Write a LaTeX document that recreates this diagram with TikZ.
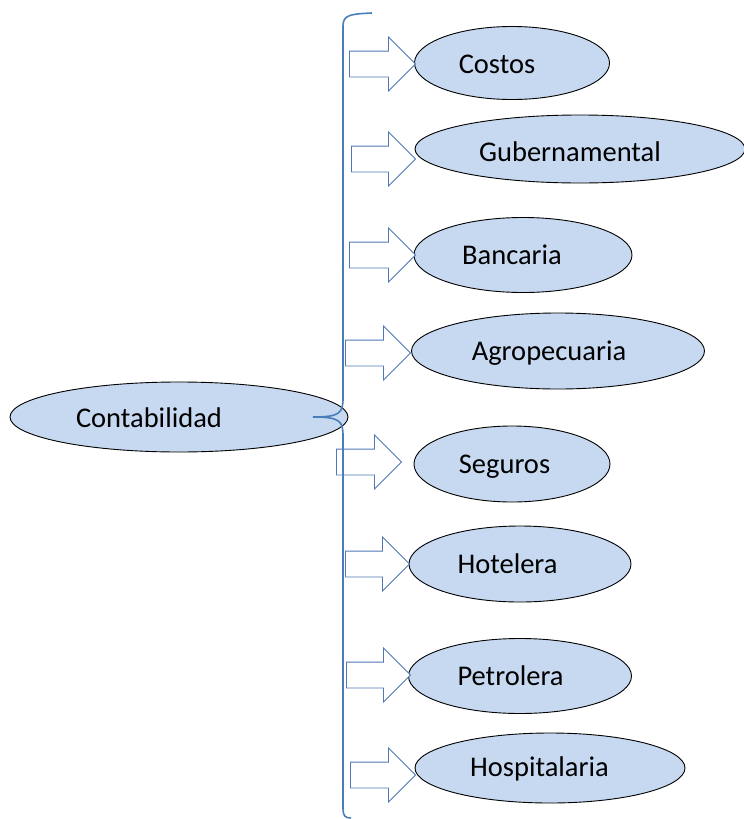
\documentclass[tikz,border=0pt]{standalone}
\usepackage{fontspec}
\setmainfont{Carlito}
\usetikzlibrary{shapes.geometric,shapes.arrows}
\definecolor{ellfill}{RGB}{198,217,240}
\definecolor{arrline}{RGB}{79,120,180}
\definecolor{braceline}{RGB}{74,126,187}
\tikzset{
  oval/.style={ellipse, draw=black, line width=0.9pt, fill=ellfill, inner sep=0pt},
  lbl/.style={anchor=base, inner sep=0pt, font=\fontsize{28.5}{34}\selectfont},
  blockarrow/.style={single arrow, draw=arrline, fill=white, line width=0.9pt,
     single arrow head extend=14pt, single arrow tip angle=90,
     inner xsep=0pt, inner ysep=12.5pt, text height=0pt, text depth=0pt,
     anchor=tail},
  bracepath/.style={draw=braceline, line width=1.6pt}
}
\begin{document}
\begin{tikzpicture}[x=1pt,y=-1pt]
\useasboundingbox (0,0) rectangle (744,819);
% ellipses
\node[oval, minimum width=195pt, minimum height=73pt] (eCos) at (512,63) {};
\node[oval, minimum width=330pt, minimum height=68pt] (eGub) at (580,149) {};
\node[oval, minimum width=218pt, minimum height=75pt] (eBan) at (523,255) {};
\node[oval, minimum width=293pt, minimum height=76pt] (eAgr) at (558,351) {};
\node[oval, minimum width=338pt, minimum height=70pt] (eCon) at (179,417) {};
\node[oval, minimum width=196pt, minimum height=76pt] (eSeg) at (512,464) {};
\node[oval, minimum width=222pt, minimum height=76pt] (eHot) at (520,564) {};
\node[oval, minimum width=223pt, minimum height=75pt] (ePet) at (520,676) {};
\node[oval, minimum width=270pt, minimum height=70pt] (eHos) at (550,768) {};
% labels
\node[lbl] (tCos) at (497,73) {Costos};
\node[lbl] (tGub) at (570,161) {Gubernamental};
\node[lbl] (tBan) at (512,264) {Bancaria};
\node[lbl] (tAgr) at (549,360) {Agropecuaria};
\node[lbl] (tCon) at (149,427) {Contabilidad};
\node[lbl] (tSeg) at (504.5,473) {Seguros};
\node[lbl] (tHot) at (507.5,573) {Hotelera};
\node[lbl] (tPet) at (510.5,685) {Petrolera};
\node[lbl] (tHos) at (539.5,776) {Hospitalaria};
% block arrows
\node[blockarrow, minimum height=66pt] (aCos) at (349,64) {};
\node[blockarrow, minimum height=64pt] (aGub) at (351,159) {};
\node[blockarrow, minimum height=66pt] (aBan) at (349,255) {};
\node[blockarrow, minimum height=65pt] (aAgr) at (345,353) {};
\node[blockarrow, minimum height=65pt] (aSeg) at (336,462) {};
\node[blockarrow, minimum height=64pt] (aHot) at (345,564) {};
\node[blockarrow, minimum height=64pt] (aPet) at (346,675) {};
\node[blockarrow, minimum height=65pt] (aHos) at (350,775) {};
% brace
\coordinate (bTop) at (372,13);
\coordinate (bTip) at (313,417);
\coordinate (bBot) at (351,818);
\draw[bracepath] (bTop) .. controls (350,14) and (343,15) .. (343,26)
  -- (343,398) .. controls (343,413) and (340,417) .. (bTip)
  .. controls (340,417) and (343,421) .. (343,436)
  -- (343,808) .. controls (343,816) and (345,818) .. (bBot);
\end{tikzpicture}
\end{document}
